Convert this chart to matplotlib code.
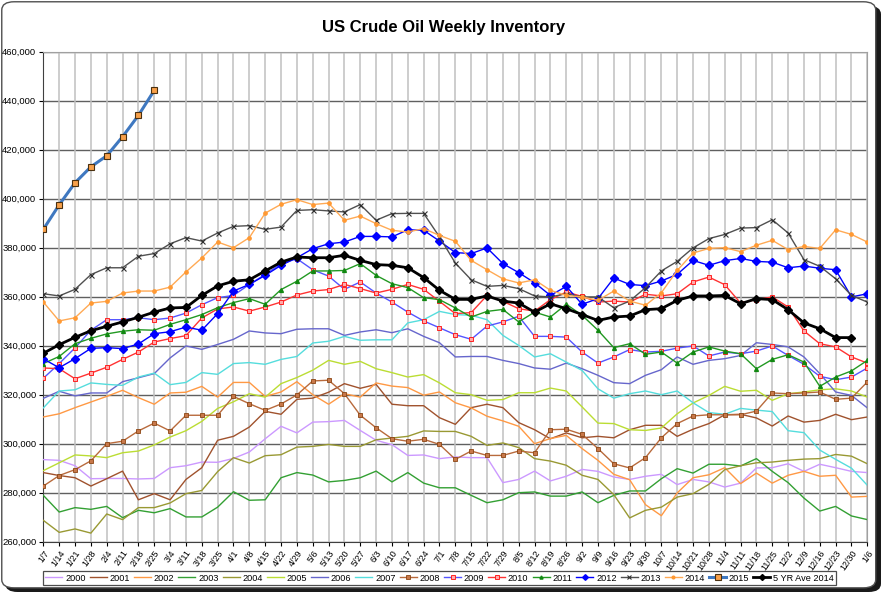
import numpy as np
import matplotlib
matplotlib.use('Agg')
import matplotlib.pyplot as plt
from matplotlib.patches import FancyBboxPatch
from matplotlib.ticker import FuncFormatter, MultipleLocator

plt.rcParams['font.family'] = ['Liberation Sans', 'DejaVu Sans']

# --- DATA (thousand barrels) ---
weeks = ["1/7", "1/14", "1/21", "1/28", "2/4", "2/11", "2/18", "2/25", "3/4", "3/11",
         "3/18", "3/25", "4/1", "4/8", "4/15", "4/22", "4/29", "5/6", "5/13", "5/20",
         "5/27", "6/3", "6/10", "6/17", "6/24", "7/1", "7/8", "7/15", "7/22", "7/29",
         "8/5", "8/12", "8/19", "8/26", "9/2", "9/9", "9/16", "9/23", "9/30", "10/7",
         "10/14", "10/21", "10/28", "11/4", "11/11", "11/18", "11/25", "12/2", "12/9",
         "12/16", "12/23", "12/30", "1/6"]

y2000 = [293.5, 293.2, 291, 285.7, 285.8, 285.8, 285.6, 285.8, 290.2, 291, 292.5, 292.4, 294, 296.6, 302, 307.1, 304.4, 308.8, 309,
         309.5, 305.4, 301.4, 299.6, 295.2, 295.4, 293.9, 294.6, 294.3, 294.3, 284.1, 285.4, 288.8, 284.8, 286.7, 289.5, 288.7, 286.4,
         285.4, 286.7, 287.5, 283.3, 285.4, 284.4, 282.3, 283.9, 290.1, 290.2, 291.8, 288.7, 291.6, 290.2, 288.7, 288.2]
y2001 = [288.2, 287, 286.1, 282.7, 285.7, 288.8, 277.1, 279.6, 277.1, 285.4, 290.2, 301.4, 303, 306.8, 313.2, 312, 318.1, 318.6, 321,
         324.5, 322.6, 324.2, 316.1, 315.5, 315.5, 310.6, 307.9, 314.7, 316.1, 314.7, 308.6, 305.7, 302, 304.4, 302.4,
         303, 302.4, 305.7, 307.5, 307.5, 303, 305.9, 308.2, 311.8, 312, 310.5, 307.2, 311.3, 308.8, 309.5, 312, 309.8, 310.9]
y2002 = [310.9, 312.2, 314.7, 317, 319.3, 321.8, 318.8, 316.1, 320.7, 321, 323.4, 319, 325, 325, 319.3, 321.1, 325.3, 320, 316.1,
         320.4, 319, 324.8, 323.5, 322.9, 319.8, 321.1, 316.7, 314.6, 311.2, 309.3, 307.1, 300, 302.1, 303.4, 298,
         293.2, 287.5, 285.3, 275.1, 270.6, 279.9, 286.1, 287.3, 290.2, 283.7, 288, 283.9, 287.1, 288.7, 286.7, 287.1, 278.2, 278.5]
y2003 = [278.9, 272.1, 273.9, 273.2, 274.4, 269.8, 272.8, 271.8, 273.5, 270.1, 270.1, 274.1, 280.4, 276.9, 277.1, 286.1, 288.2, 287.2, 284.4,
         285, 286.1, 288.8, 284.4, 288.2, 283.9, 282, 282, 278.9, 275.9, 277.1, 280, 280.3, 278.6, 278.6, 280.3,
         275.9, 278.9, 280.7, 280.7, 285.7, 289.8, 288, 291.6, 291.6, 290.9, 293.9, 288.7, 284.1, 277.8, 272.5, 274.4, 270.5, 269]
y2004 = [268.7, 263.8, 265.2, 263.5, 271.3, 269, 273.9, 273.9, 275.8, 279.6, 280.9, 288.6, 294.3, 292.1, 295.1, 295.5, 298.6, 298.9, 299.7,
         298.9, 298.9, 301.6, 302.3, 303, 305.2, 305, 305, 303, 299.3, 300.3, 298.4, 293.9, 292.9, 291.2, 287.1,
         285.4, 279.2, 269.7, 272.8, 274.1, 278.2, 279.6, 283.4, 289.4, 291, 292.2, 292.5, 293.2, 293.7, 293.9, 295.6, 294.9, 291.8]
y2005 = [289, 292.2, 295.4, 295, 294.3, 296.3, 297, 299.5, 302.7, 305.3, 309.1, 314.4, 317.1, 320.4, 319, 324.5, 327, 330, 334,
         332.4, 333.6, 330.6, 329, 327.2, 328.2, 324.8, 320.8, 320, 317.7, 318, 320.8, 320.8, 322.7, 321.5, 315,
         308.4, 308.2, 305.7, 305.4, 306.4, 312.2, 316.6, 319.7, 323.4, 321.4, 321.8, 317.7, 320.4, 321.1, 322, 322.4, 321.5, 319]
y2006 = [318.5, 321.4, 319.5, 320.7, 320.7, 325.3, 326.9, 328.6, 335, 339.9, 338.5, 340.5, 342.6, 346, 345.2, 344.9, 346.7, 346.9, 346.9,
         344.2, 345.6, 346.5, 345.3, 346.9, 343.8, 341.2, 335.4, 335.6, 335.6, 334, 332.7, 330.9, 330.4, 332.9, 330.6,
         327.9, 324.9, 324.5, 327.9, 330.2, 335.4, 332.4, 334, 334.7, 336, 341.2, 340.5, 339.5, 335.4, 328.6, 321.1, 319.7, 314.6]
y2007 = [314.6, 321.5, 322, 324.8, 324.2, 323.8, 327.2, 328.8, 324.1, 325, 329, 328.3, 332.7, 333.1, 332.4, 334.4, 335.6, 341.1, 341.8,
         343.8, 342.2, 342.4, 342.4, 349.3, 350.6, 354, 352.7, 352.4, 350.6, 344.2, 340.1, 335.4, 336.7, 333.3, 329.9,
         322.4, 318.6, 320.4, 321.5, 320, 321.5, 316.7, 312.7, 312, 314.4, 313.7, 313.1, 305.3, 304.5, 297.4, 293.6, 290, 283]
y2008 = [282.7, 287, 289.4, 293, 300, 301, 305.2, 308.4, 305.2, 311.6, 311.6, 311.6, 319.3, 316.3, 313.6, 316.2, 319.9, 325.6, 325.9,
         320.4, 311.6, 306.5, 302, 301, 301.8, 299.7, 293.6, 297, 295.2, 295.2, 297, 296.3, 305.7, 305.9, 303.8,
         298, 291.8, 290.1, 294.3, 302.4, 308.2, 311.3, 311.8, 311.8, 311.8, 313.3, 320.7, 320.4, 320.7, 321.1, 318.1, 318.6, 325.2]
y2009 = [326.7, 332.7, 339.1, 346.3, 350.6, 350.6, 351.4, 350.6, 351.3, 353.3, 356.7, 359.6, 360.5, 365, 369.1, 373.5, 375.5, 371, 368.4,
         363, 366, 361.5, 357.8, 353.7, 350.1, 347.3, 344.5, 342.6, 348, 349.7, 352, 343.8, 343.8, 343.5, 337.4, 332.9,
         335.4, 338.4, 337.4, 337.7, 339, 339.9, 335.8, 337.4, 336.7, 337.8, 339.9, 336, 332.4, 327.5, 326.1, 327.2, 330.9]
y2010 = [330.9, 330.6, 326.5, 328.8, 331.2, 334.4, 337.4, 341.5, 342.9, 344.1, 351.3, 355, 355.8, 354.1, 355.8, 357.8, 360.7, 362.3, 362.9,
         365, 363.3, 361.5, 363, 365, 363, 358.1, 353.1, 353.5, 360.5, 358.1, 355.1, 354.1, 358.8, 361.9, 360.1, 357.8,
         358.2, 357.8, 361, 360.3, 361.2, 366, 368, 364.9, 357.4, 358.8, 359.9, 355.8, 346, 340.8, 339.5, 335.4, 332.9]
y2011 = [332.7, 335.6, 340.8, 343, 344.8, 345.9, 346.5, 346.3, 348.7, 350.6, 352.7, 355.5, 357.6, 359.2, 356.9, 362.9, 366.3, 370.5, 370.5,
         370.7, 373.5, 368.7, 365.3, 363.7, 359.6, 358.8, 355.4, 351.7, 354, 354.8, 349.7, 353.7, 351.7, 356.9, 352.4, 346.3,
         339.2, 340.8, 336.5, 337.4, 332.9, 337.4, 339.5, 337.8, 336.7, 330.6, 334.4, 336.3, 333.3, 323.4, 327.2, 329.7, 334]
y2012 = [334.6, 331, 334.7, 338.9, 339.2, 338.8, 340.7, 344.9, 345.7, 347.6, 346.3, 353.1, 362.3, 365, 368.7, 372.8, 375.9, 379.6, 381.6,
         382.3, 384.6, 384.6, 384.4, 387.3, 387.1, 382.7, 378, 377.6, 379.9, 373.5, 369.8, 365.7, 360.5, 364.2, 356.9, 359.2,
         367.6, 365, 364.5, 366.4, 369.1, 374.8, 372.8, 374.7, 375.6, 374.4, 374.1, 371.8, 372.5, 371.6, 371, 359.9, 361.2]
y2013 = [361.2, 360.3, 363, 369, 371.8, 371.8, 376.5, 377.6, 381.6, 384.1, 382.7, 386, 388.7, 389, 387.5, 388.4, 395.2, 395.5, 395,
         394.6, 397.6, 391.2, 393.9, 394, 394, 384.4, 373.7, 366.9, 364.2, 364.6, 363.3, 360.3, 359.9, 361.2, 359.9, 359.9,
         355.5, 358.2, 363.7, 370.5, 374.4, 379.9, 383.7, 385.4, 388, 388.2, 391.4, 386, 375.1, 372.4, 367.3, 360.5, 357.8]
y2014 = [357.8, 350.1, 351.4, 357.4, 358.1, 361.5, 362.3, 362.3, 363.9, 370.1, 375.8, 382.3, 380, 384.1, 394.1, 397.7, 399.6, 397.6, 398.2,
         391.2, 392.9, 389.8, 387.1, 386.4, 387.8, 385, 382.6, 374.8, 371, 367.3, 365.6, 366.9, 362.6, 360.5, 359.9, 358.5,
         362.3, 358.2, 356.5, 361.6, 370.7, 377.8, 379.7, 380, 378.4, 381, 383, 379.2, 380.5, 379.7, 387.3, 385.4, 382.3]
y2015 = [387.5, 397.5, 406.5, 413, 417.5, 425.3, 434, 444.2]
avg5 = [336.9, 340.4, 343.4, 346.1, 347.9, 349.7, 351.6, 353.7, 355.4, 355.6, 360.5, 364.4, 366.3, 366.9, 370.5, 374.1, 376.2, 375.9, 375.9,
        376.9, 374.8, 373.1, 372.8, 371.8, 367.8, 362.6, 358.9, 358.9, 360.3, 358.2, 357.4, 353.7, 357.1, 355.1, 352.7, 350.3,
        351.7, 352.1, 354.7, 355.1, 358.5, 360.3, 360.3, 360.5, 357.1, 359.2, 358.8, 354.7, 349.3, 346.9, 343.3, 343.3]

# label, values, style
series = [
    ("2000", y2000, dict(color='#CC99FF', lw=1.0)),
    ("2001", y2001, dict(color='#A0522D', lw=1.0)),
    ("2002", y2002, dict(color='#FF9944', lw=1.0)),
    ("2003", y2003, dict(color='#33A033', lw=1.0)),
    ("2004", y2004, dict(color='#999933', lw=1.0)),
    ("2005", y2005, dict(color='#BBDD33', lw=1.0)),
    ("2006", y2006, dict(color='#6666CC', lw=1.0)),
    ("2007", y2007, dict(color='#55DDDD', lw=1.0)),
    ("2008", y2008, dict(color='#B86A3C', lw=1.0, marker='s', ms=3.2, mfc='#C8784A', mec='#8B4513', mew=0.6)),
    ("2009", y2009, dict(color='#5555FF', lw=1.0, marker='s', ms=3.2, mfc='#FFAAAA', mec='#FF2222', mew=0.7)),
    ("2010", y2010, dict(color='#FF3333', lw=1.0, marker='s', ms=3.2, mfc='#FFAAAA', mec='#FF2222', mew=0.7)),
    ("2011", y2011, dict(color='#229922', lw=1.0, marker='^', ms=2.8, mfc='#118811', mec='#118811')),
    ("2012", y2012, dict(color='#0000FF', lw=1.0, marker='D', ms=3.6, mfc='#0000FF', mec='#0000FF')),
    ("2013", y2013, dict(color='#505050', lw=1.0, marker='x', ms=3.6, mec='#303030', mew=0.8)),
    ("2014", y2014, dict(color='#FFAA55', lw=1.0, marker='o', ms=2.4, mfc='#FF9933', mec='#FF9933')),
    ("2015", y2015, dict(color='#3F78C0', lw=2.2, marker='s', ms=5, mfc='#F7A04A', mec='#4A3010', mew=0.8)),
    ("5 YR Ave 2014", avg5, dict(color='black', lw=2.0, marker='D', ms=3.8, mfc='black', mec='black')),
]

fig = plt.figure(figsize=(8.81, 5.92), dpi=100)
fig.patch.set_facecolor('white')
ax = fig.add_axes([0.0492, 0.085, 0.9353, 0.8277])

x = np.arange(len(weeks))
for label, vals, st in series:
    ax.plot(x[:len(vals)], np.array(vals) * 1000, label=label, zorder=3, **st)

ax.set_xlim(0, len(weeks) - 1)
ax.set_ylim(260000, 460000)
ax.yaxis.set_major_locator(MultipleLocator(20000))
ax.yaxis.set_major_formatter(FuncFormatter(lambda v, p: f"{int(v):,}"))
ax.set_xticks(x)
ax.set_xticklabels(weeks, rotation=55, ha='right', rotation_mode='anchor', fontsize=6.5)
ax.tick_params(axis='y', labelsize=6.8, length=3, width=0.8, pad=2)
ax.tick_params(axis='x', length=3, width=0.8, pad=2)

# vertical light grid, horizontal dark grid
for xi in x:
    ax.axvline(xi, color='#C0C0C0', lw=1.1, zorder=1)
ax.yaxis.grid(True, color='#606060', lw=1.0, zorder=2)
ax.set_axisbelow(True)
for s in ['top', 'right']:
    ax.spines[s].set_color('#A0A0A0')
ax.spines['left'].set_color('#404040')
ax.spines['bottom'].set_color('#404040')

fig.text(0.503, 0.953, "US Crude Oil Weekly Inventory", ha='center', va='center',
         fontsize=12, fontweight='bold')

leg = fig.legend(loc='center', bbox_to_anchor=(0.499, 0.0236), ncol=17, fontsize=6.6,
                 frameon=True, fancybox=False, edgecolor='#202020', handlelength=1.85,
                 handletextpad=0.3, columnspacing=0.45, borderpad=0.25, borderaxespad=0,
                 markerscale=0.8)
leg.get_frame().set_linewidth(0.9)

# chart-area border with shadow
shadow = FancyBboxPatch((0.006, 0.0), 0.994, 0.99, boxstyle="round,pad=0,rounding_size=0.014",
                        transform=fig.transFigure, facecolor='#1A1A1A', edgecolor='none', zorder=-2)
border = FancyBboxPatch((0.002, 0.007), 0.992, 0.99, boxstyle="round,pad=0,rounding_size=0.014",
                        transform=fig.transFigure, facecolor='white', edgecolor='#505050', lw=1.0, zorder=-1)
fig.patches.extend([shadow, border])

fig.savefig('out.png', dpi=100)
